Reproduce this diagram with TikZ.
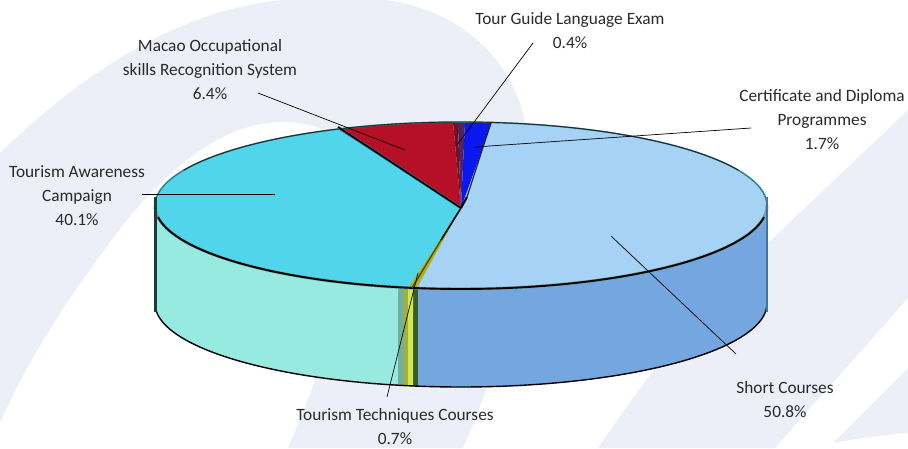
\documentclass[tikz,border=0pt]{standalone}
\usepackage{fontspec}
\setmainfont{Carlito}
\definecolor{pale}{HTML}{ECEFF7}
\definecolor{lblue}{HTML}{A6D2F5}
\definecolor{mblue}{HTML}{74A7DF}
\definecolor{cyantop}{HTML}{51D5EA}
\definecolor{cyanside}{HTML}{97EAE0}
\definecolor{redtop}{HTML}{B51025}
\definecolor{deepblue}{HTML}{0A18F0}
\definecolor{txt}{HTML}{2A2A2A}
\definecolor{halo}{HTML}{2A8090}
\definecolor{bandA}{HTML}{3D5A2A}
\definecolor{bandB}{HTML}{D0E850}
\definecolor{bandC}{HTML}{A0B040}
\definecolor{bandD}{HTML}{6FB0A0}
\definecolor{olive}{HTML}{B0B020}
\definecolor{wine}{HTML}{701028}
\definecolor{plum}{HTML}{50235F}
\definecolor{edgeL}{HTML}{1D3B3B}
\definecolor{edgeR}{HTML}{46739F}
\definecolor{oliveDk}{HTML}{465014}
\newcommand{\Wedge}[3]{\fill[#3] (apex) -- plot[domain=#1:#2,samples=60] ({461+306*cos(\x)},{205.5+83.5*sin(\x)}) -- cycle;}
\newcommand{\SideFace}[3]{\fill[#3] plot[domain=#1:#2,samples=60] ({461+306*cos(\x)},{205.5+83.5*sin(\x)}) -- plot[domain=#2:#1,samples=60] ({461+306*cos(\x)},{303.5+83.5*sin(\x)}) -- cycle;}
\tikzset{
  lab/.style={font=\fontsize{17.3}{24}\selectfont,text=txt,align=center,inner sep=0pt},
  leader/.style={draw=black,line width=0.7pt},
}
\begin{document}
\begin{tikzpicture}[x=1pt,y=-1pt]
\useasboundingbox (0,0) rectangle (908,448);
\coordinate (apex) at (461,208);
\coordinate (redEnd) at (338,127);
\coordinate (blueEnd) at (491,122.5);
\coordinate (blueMid) at (467,197);
\coordinate (yelMid) at (441,240);
\coordinate (yelEnd) at (412,288);
\begin{scope}
\clip (0,0) rectangle (908,448);
% background swooshes
\fill[pale] (0,153) .. controls (70,85) and (170,10) .. (283,0) -- (385,0)
  .. controls (450,8) and (510,50) .. (525,122)
  .. controls (540,220) and (510,340) .. (463,448) -- (288,448)
  .. controls (300,420) and (310,395) .. (315,380)
  .. controls (345,300) and (370,170) .. (320,128)
  .. controls (250,105) and (180,150) .. (117,233)
  .. controls (70,295) and (30,355) .. (0,423) -- cycle;
\fill[pale] (598,448) .. controls (650,372) and (700,305) .. (768,243) -- (908,110) -- (908,298) -- (775,448) -- cycle;
\fill[pale] (833,443) -- (908,368) -- (908,433) .. controls (880,435) and (855,439) .. (833,443) -- cycle;
\end{scope}
% side faces
\SideFace{0}{98.08}{mblue}
\SideFace{98.08}{99}{bandA}
\SideFace{99}{99.99}{bandB}
\SideFace{99.99}{100.9}{bandC}
\SideFace{100.9}{101.9}{bandD}
\SideFace{101.9}{180}{cyanside}
% top face
\Wedge{-84.2}{98.3}{lblue}
\Wedge{98.3}{100}{olive}
\Wedge{100}{246.3}{cyantop}
\Wedge{246.3}{268.5}{redtop}
\Wedge{268.5}{269.4}{wine}
\Wedge{269.4}{270.75}{plum}
\Wedge{270.75}{275.8}{deepblue}
% outlines
\draw[halo!70,line width=3pt] plot[domain=0:180,samples=90] ({461+306*cos(\x)},{205.5+83.5*sin(\x)});
\draw[black,line width=1.9pt] plot[domain=8:172,samples=90] ({461+306*cos(\x)},{205.5+83.5*sin(\x)});
\draw[black,line width=1.4pt] plot[domain=2:178,samples=90] ({461+306*cos(\x)},{303.5+83.5*sin(\x)});
\draw[halo,line width=1.5pt] plot[domain=180:360,samples=120] ({461+306*cos(\x)},{205.5+83.5*sin(\x)});
\draw[black!85,line width=0.9pt] plot[domain=205:335,samples=90] ({461+306*cos(\x)},{205.5+83.5*sin(\x)});
\draw[edgeL,line width=3pt] (155,197) -- (155,312);
\draw[edgeR,line width=2pt] (767,197) -- (767,312);
% pie separators
\draw[halo,line width=2.6pt] (redEnd) -- (apex);
\draw[black,line width=1.5pt] (redEnd) -- (apex);
\draw[black,line width=2pt] (apex) -- (blueMid);
\draw[black!85,line width=1.2pt] (blueMid) -- (blueEnd);
\draw[black,line width=1.6pt] (apex) -- (yelMid);
\draw[oliveDk,line width=1.4pt] (yelMid) -- (yelEnd);
% named leader ends
\coordinate (tgA) at (533,43);  \coordinate (tgB) at (457,145);
\coordinate (cdA) at (751,128); \coordinate (cdB) at (475,147);
\coordinate (moA) at (258,93);  \coordinate (moB) at (405,150);
\coordinate (taA) at (142,194); \coordinate (taB) at (275,194);
\coordinate (scA) at (736,354); \coordinate (scB) at (611,236);
\coordinate (ttA) at (387,397); \coordinate (ttB) at (418,273);
\draw[leader] (tgA) -- (tgB);
\draw[leader] (cdA) -- (cdB);
\draw[leader] (moA) -- (moB);
\draw[leader] (taA) -- (taB);
\draw[leader] (scA) -- (scB);
\draw[leader] (ttA) -- (ttB);
% labels
\node[lab] (tg) at (570,31) {Tour Guide Language Exam\\0.4\%};
\node[lab] (mo) at (210,70) {Macao Occupational\\skills Recognition System\\6.4\%};
\node[lab] (cd) at (822,120) {Certificate and Diploma\\Programmes\\1.7\%};
\node[lab] (ta) at (77,196) {Tourism Awareness\\Campaign\\40.1\%};
\node[lab] (sc) at (785,400) {Short Courses\\50.8\%};
\node[lab] (tt) at (395,427) {Tourism Techniques Courses\\0.7\%};
\end{tikzpicture}
\end{document}
